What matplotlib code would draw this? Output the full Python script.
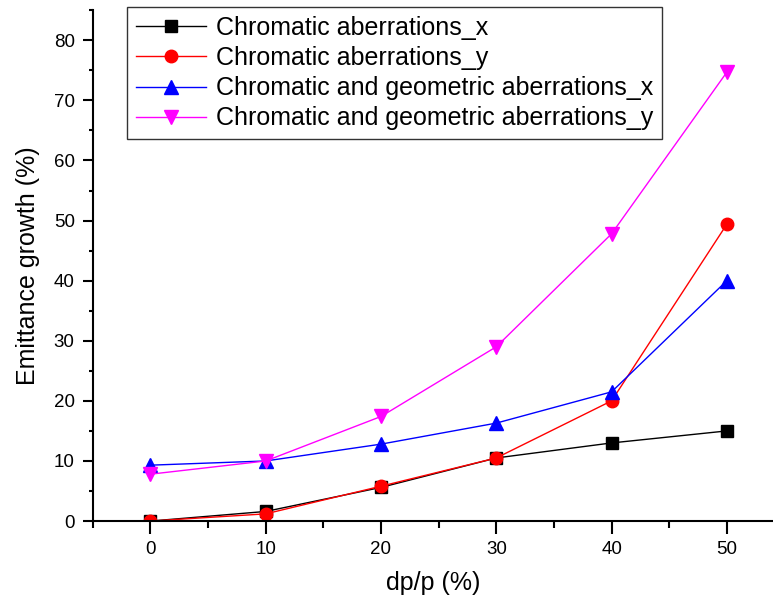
# Emittance growth vs momentum spread

import matplotlib.pyplot as plt

plt.rcParams['font.family'] = ['Liberation Sans', 'DejaVu Sans']

dpp = [0, 10, 20, 30, 40, 50]
chrom_x = [0, 1.6, 5.6, 10.5, 13.0, 15.0]
chrom_y = [0, 1.2, 5.8, 10.5, 20.0, 49.4]
chrom_geo_x = [9.3, 10.0, 12.8, 16.3, 21.5, 40.0]
chrom_geo_y = [7.8, 10.0, 17.4, 29.0, 47.8, 74.7]

labels = ['Chromatic aberrations_x', 'Chromatic aberrations_y',
          'Chromatic and geometric aberrations_x', 'Chromatic and geometric aberrations_y']

fig = plt.figure(figsize=(7.73, 6.01), dpi=100)
ax = fig.add_axes([0.120, 0.133, 0.880, 0.850])

ax.plot(dpp, chrom_x, '-s', color='black', lw=1, ms=9, label=labels[0])
ax.plot(dpp, chrom_y, '-o', color='red', lw=1, ms=9, label=labels[1])
ax.plot(dpp, chrom_geo_x, '-^', color='blue', lw=1, ms=10, label=labels[2])
ax.plot(dpp, chrom_geo_y, '-v', color='magenta', lw=1, ms=10, label=labels[3])

ax.set_xlim(-5, 54)
ax.set_ylim(0, 85)
ax.set_xticks([0, 10, 20, 30, 40, 50])
ax.set_xticks([-5, 5, 15, 25, 35, 45], minor=True)
ax.set_yticks([0, 10, 20, 30, 40, 50, 60, 70, 80])
ax.set_yticks([5, 15, 25, 35, 45, 55, 65, 75, 85], minor=True)
ax.spines['top'].set_visible(False)
ax.spines['right'].set_visible(False)
ax.spines['left'].set_linewidth(1.5)
ax.spines['bottom'].set_linewidth(1.5)
ax.tick_params(axis='x', which='major', direction='out', length=9, width=1.5, labelsize=13.5, pad=5)
ax.tick_params(axis='x', which='minor', direction='out', length=5, width=1.5)
ax.tick_params(axis='y', which='major', direction='out', length=7, width=1.5, labelsize=13.5, pad=6)
ax.tick_params(axis='y', which='minor', direction='out', length=3, width=1.5)

ax.set_xlabel('dp/p (%)', fontsize=18, labelpad=10)
ax.set_ylabel('Emittance growth (%)', fontsize=18, labelpad=10)

leg = fig.legend(loc='upper left', bbox_to_anchor=(127 / 773, 1 - 7 / 601),
                 fontsize=18, fancybox=False, edgecolor='#333333', framealpha=1,
                 borderaxespad=0, borderpad=0.35, handlelength=2.8, handletextpad=0.4,
                 labelspacing=0.25)
leg.get_frame().set_linewidth(1)

plt.savefig('out.png')
